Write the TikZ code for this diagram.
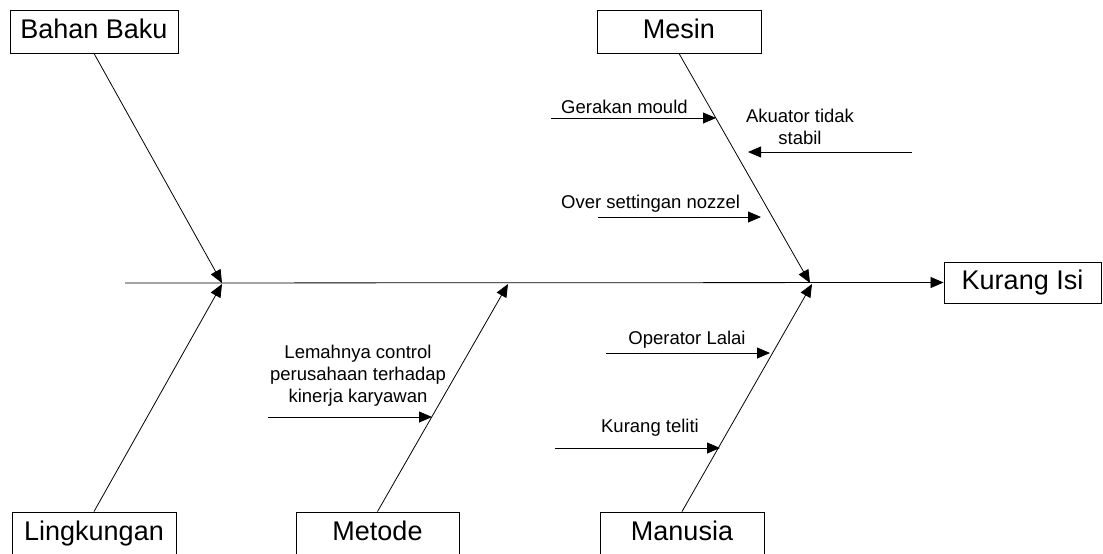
\documentclass[tikz,border=0pt]{standalone}
\usepackage{fontspec}
\setmainfont{Liberation Sans}
\usetikzlibrary{arrows.meta}
\begin{document}
\begin{tikzpicture}[x=1pt,y=-1pt,
  box/.style={draw,line width=0.9pt,inner sep=0pt,minimum height=43pt,text height=19.5pt,text depth=5.7pt,font=\fontsize{27}{31}\selectfont},
  lbl/.style={inner sep=0pt,font=\fontsize{18.5}{22}\selectfont,align=center},
  bone/.style={line width=0.8pt,-{Triangle[length=13pt,width=11pt]}},
  sub/.style={line width=0.8pt,-{Triangle[length=13pt,width=11pt]}}]
\clip (0,0) rectangle (1103,554);
\useasboundingbox (0,0) rectangle (1103,554);
% category boxes
\node[box,minimum width=168pt] (bb) at (94,31.5) {Bahan Baku};
\node[box,minimum width=164pt] (ms) at (679,31.5) {Mesin};
\node[box,minimum width=157pt,minimum height=41pt] (ki) at (1022.5,282.5) {Kurang Isi};
\node[box,minimum width=164pt] (lk) at (94,533.5) {Lingkungan};
\node[box,minimum width=163pt] (mt) at (377.5,533.5) {Metode};
\node[box,minimum width=164pt] (mn) at (682,533.5) {Manusia};
% spine
\coordinate (s0) at (125,283);
\coordinate (sB) at (222,283);
\coordinate (sL) at (222,284);
\coordinate (sT) at (508,284);
\coordinate (sM) at (810,283);
\coordinate (sN) at (812,284);
\draw[bone] (s0) -- (ki.west);
\draw[bone] (bb.south) -- (sB);
\draw[bone] (ms.south) -- (sM);
\draw[bone] (lk.north) -- (sL);
\draw[bone] (mt.north) -- (sT);
\draw[bone] (mn.north) -- (sN);
% sub causes - Mesin
\coordinate (g0) at (551,118); \coordinate (g1) at (716,118);
\draw[sub] (g0) -- (g1);
\node[lbl,anchor=base west] (gt) at (561,113) {Gerakan mould};
\coordinate (a0) at (912,152); \coordinate (a1) at (748,152);
\draw[sub] (a0) -- (a1);
\node[lbl] (at) at (800,127) {Akuator tidak\\stabil};
\coordinate (o0) at (598,217); \coordinate (o1) at (761,217);
\draw[sub] (o0) -- (o1);
\node[lbl,anchor=base west] (ot) at (561,208) {Over settingan nozzel};
% Metode
\coordinate (l0) at (268,417); \coordinate (l1) at (432,417);
\draw[sub] (l0) -- (l1);
\node[lbl] (lt) at (358,375.5) {Lemahnya control\\perusahaan terhadap\\kinerja karyawan};
% Manusia
\coordinate (p0) at (606,353); \coordinate (p1) at (770,353);
\draw[sub] (p0) -- (p1);
\node[lbl,anchor=base] (pt) at (687,344) {Operator Lalai};
\coordinate (k0) at (555,448); \coordinate (k1) at (720,448);
\draw[sub] (k0) -- (k1);
\node[lbl,anchor=base] (kt) at (650,432) {Kurang teliti};
\end{tikzpicture}
\end{document}
